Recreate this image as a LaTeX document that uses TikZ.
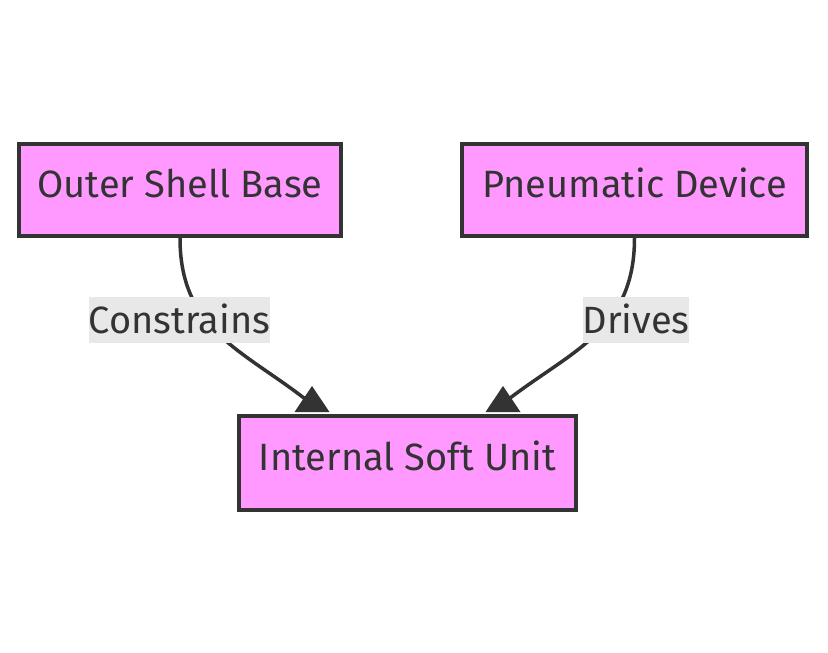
\documentclass[tikz,border=0pt]{standalone}
\usepackage{fontspec}
\setmainfont{Fira Sans}
\usetikzlibrary{calc}
\definecolor{nodefill}{HTML}{FF99FF}
\definecolor{ink}{HTML}{333333}
\definecolor{lblbg}{HTML}{E8E8E8}
\tikzset{
  box/.style={draw=ink, fill=nodefill, line width=4pt, inner sep=0pt,
    text=ink, font=\fontsize{38}{41}\selectfont, text height=15pt, text depth=0pt},
  elabel/.style={fill=lblbg, inner sep=0pt, text=ink, minimum height=46pt,
    font=\fontsize{38}{41}\selectfont, text height=26pt, text depth=0pt},
  edge/.style={draw=ink, line width=3.5pt},
  head/.style={fill=ink}
}
\begin{document}
\begin{tikzpicture}[x=1pt,y=-1pt]
\useasboundingbox (0,0) rectangle (828,653);
\node[box, minimum width=322pt, minimum height=92pt] (osb) at (180,190) {Outer Shell Base};
\node[box, minimum width=345pt, minimum height=92pt] (pd) at (634.5,190) {Pneumatic Device};
\node[box, minimum width=337pt, minimum height=94pt] (isu) at (407.5,463) {Internal Soft Unit};
% connectors
\draw[edge] (osb.south) .. controls ($(osb.south)+(0,92)$) and ($(isu.north)+(-165,-64)$) .. ($(isu.north)+(-101,-14)$);
\draw[edge] (pd.south) .. controls ($(pd.south)+(0,92)$) and ($(isu.north)+(165,-64)$) .. ($(isu.north)+(100,-14)$);
\fill[head] ($(isu.north)+(-95.5,-28)$) -- ($(isu.north)+(-113,-2)$) -- ($(isu.north)+(-78,-2)$) -- cycle;
\fill[head] ($(isu.north)+(95.5,-28)$) -- ($(isu.north)+(78,-2)$) -- ($(isu.north)+(113,-2)$) -- cycle;
% labels
\node[elabel, minimum width=179pt] (l1) at (179.5,320) {Constrains};
\node[elabel, minimum width=106pt] (l2) at (636,320) {Drives};
\end{tikzpicture}
\end{document}
